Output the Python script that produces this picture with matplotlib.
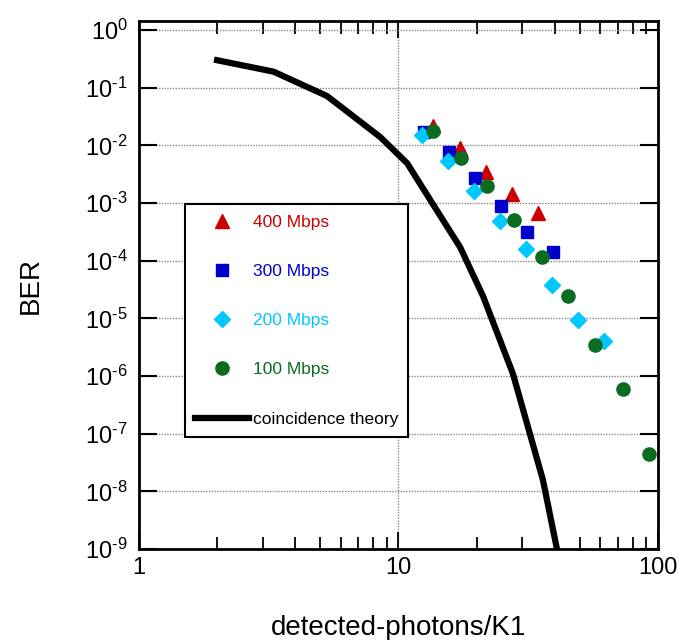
import math
import matplotlib
matplotlib.use("Agg")
import matplotlib.pyplot as plt
from matplotlib.ticker import LogLocator, NullLocator, FuncFormatter

plt.rcParams['font.family'] = ['Liberation Sans', 'DejaVu Sans']
plt.rcParams['mathtext.fontset'] = 'custom'
plt.rcParams['mathtext.rm'] = 'Liberation Sans'
plt.rcParams['mathtext.it'] = 'Liberation Sans:italic'
plt.rcParams['mathtext.bf'] = 'Liberation Sans:bold'

# measured BER vs detected photons per K1 window
x_400 = [13.6, 17.3, 21.7, 27.4, 34.5]
ber_400 = [2.2e-2, 8.9e-3, 3.5e-3, 1.44e-3, 6.8e-4]

x_300 = [12.5, 15.7, 19.8, 24.9, 31.3, 39.5]
ber_300 = [1.7e-2, 7.6e-3, 2.7e-3, 8.8e-4, 3.1e-4, 1.4e-4]

x_200 = [12.3, 15.5, 19.5, 24.6, 31.0, 39.1, 49.3, 62.1]
ber_200 = [1.5e-2, 5.4e-3, 1.6e-3, 4.8e-4, 1.6e-4, 3.8e-5, 9.4e-6, 4.1e-6]

x_100 = [13.6, 17.4, 22.0, 27.9, 35.6, 44.9, 57.3, 73.1, 92.1]
ber_100 = [1.8e-2, 6.0e-3, 2.0e-3, 5.0e-4, 1.18e-4, 2.4e-5, 3.5e-6, 5.9e-7, 4.4e-8]

# coincidence theory curve
x_theory = [2.0, 3.3, 5.3, 8.5, 10.8, 13.8, 17.3, 21.2, 27.6, 36.0, 40.8]
ber_theory = [0.30, 0.19, 0.072, 0.014, 4.9e-3, 8.5e-4, 1.7e-4, 2.4e-5, 1.1e-6, 1.6e-8, 1.0e-9]


def dec_label(v, pos):
    e = int(round(math.log10(v)))
    s = str(e).replace('-', '\u2010')
    return r'$\mathregular{10^{%s}}$' % s


fig = plt.figure(figsize=(6.8, 6.4), dpi=100)
ax = fig.add_axes([0.2044, 0.1422, 0.7632, 0.8248])

ax.plot(x_theory, ber_theory, color='black', lw=4.5, zorder=2)
ax.plot(x_400, ber_400, '^', color='#cc0000', ms=9.5, ls='none', zorder=3)
ax.plot(x_300, ber_300, 's', color='#0000cc', ms=8, ls='none', zorder=3)
ax.plot(x_200, ber_200, 'D', color='#00c8ff', ms=8, ls='none', zorder=3)
ax.plot(x_100, ber_100, 'o', color='#0b6b1f', ms=9.5, ls='none', zorder=3)

ax.set_xscale('log')
ax.set_yscale('log')
ax.set_xlim(1, 100)
ax.set_ylim(1e-9, 1.43)

ax.yaxis.set_major_locator(LogLocator(base=10, numticks=20))
ax.yaxis.set_minor_locator(NullLocator())
ax.yaxis.set_major_formatter(FuncFormatter(dec_label))
ax.xaxis.set_major_formatter(FuncFormatter(lambda v, p: '%g' % v))

ax.tick_params(axis='both', which='both', direction='in', top=True, right=True)
ax.tick_params(axis='x', which='major', length=12, width=1.3, labelsize=17, pad=6)
ax.tick_params(axis='x', which='minor', length=9, width=1.3)
ax.tick_params(axis='y', which='major', length=13, width=1.5, labelsize=17, pad=8)

for s in ax.spines.values():
    s.set_linewidth(2)

ax.grid(True, which='major', color='#888888', ls=(0, (1, 1)), lw=1)
ax.set_axisbelow(True)

ax.set_xlabel('detected-photons/K1', fontsize=20, labelpad=26)
ax.set_ylabel('BER', fontsize=20, labelpad=30)

h = ax.get_lines()
leg = ax.legend([h[1], h[2], h[3], h[4], h[0]],
                ['400 Mbps', '300 Mbps', '200 Mbps', '100 Mbps', 'coincidence theory'],
                loc='upper left', bbox_to_anchor=(0.0886, 0.653),
                fontsize=12.5, labelspacing=1.96, handlelength=3.1,
                handletextpad=0.2, borderpad=0.6, borderaxespad=0,
                fancybox=False, framealpha=1, edgecolor='black',
                labelcolor=['#cc0000', '#0000cc', '#00c8ff', '#0b6b1f', 'black'])
leg.get_frame().set_linewidth(1.5)

fig.savefig('out.png', dpi=100)
